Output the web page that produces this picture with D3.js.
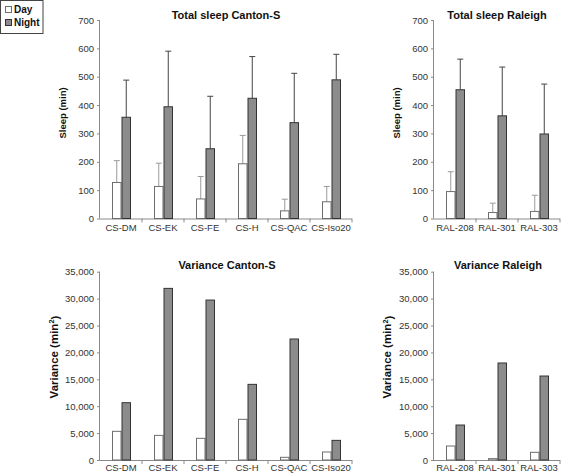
<!DOCTYPE html>
<html>
<head>
<meta charset="utf-8">
<script src="https://cdn.jsdelivr.net/npm/d3@7"></script>
<style>
  html, body { margin: 0; padding: 0; background: #fff; }
  svg { display: block; font-family: Arial, "Liberation Sans", sans-serif; }
</style>
</head>
<body>
<svg id="chart" width="561" height="474"></svg>
<script>
// ---- Data ----
const csCats = ["CS-DM", "CS-EK", "CS-FE", "CS-H", "CS-QAC", "CS-Iso20"];
const ralCats = ["RAL-208", "RAL-301", "RAL-303"];
const seriesNames = ["Day", "Night"];

const csSleepDay = [127, 113, 69, 193, 27, 59];
const csSleepDaySD = [77, 82, 79, 100, 41, 54];
const csSleepNight = [357, 394, 246, 424, 338, 489];
const csSleepNightSD = [131, 196, 185, 147, 174, 90];

const ralSleepDay = [95, 21, 25];
const ralSleepDaySD = [70, 33, 57];
const ralSleepNight = [454, 362, 298];
const ralSleepNightSD = [108, 172, 176];

const csVarDay = [5330, 4580, 4030, 7560, 500, 1490];
const csVarNight = [10650, 31900, 29730, 14060, 22490, 3650];
const ralVarDay = [2600, 250, 1430];
const ralVarNight = [6500, 18030, 15610];

const sleepTicks = [0, 100, 200, 300, 400, 500, 600, 700];
const varTicks = [0, 5000, 10000, 15000, 20000, 25000, 30000, 35000];

// ---- Drawing ----
const svg = d3.select("#chart");
const dayFill = "#ffffff", dayStroke = "#6e6e6e", dayErr = "#9a9a9a";
const nightFill = "#8c8c8c", nightStroke = "#333333", nightErr = "#444444";
const axisColor = "#8a8a8a";

function panel(opts) {
  const { cats, day, night, daySD, nightSD, x0, x1, yTop, yZero, max, ticks,
          fmt, title, titleX, titleY, ylabel, ylabelX, ylabelY, ylabelSize, xPad } = opts;
  const g = svg.append("g");
  const x = d3.scaleBand().domain(cats).range([x0, x1]).paddingInner(0).paddingOuter(0);
  const step = x.step();
  const inner = d3.scaleBand().domain(seriesNames).range([step / 2 - 9, step / 2 + 10]).padding(0);
  const y = d3.scaleLinear().domain([0, max]).range([yZero, yTop]);

  // y axis
  const ya = g.append("g").attr("transform", `translate(${x0},0)`)
    .call(d3.axisLeft(y).tickValues(ticks).tickSize(3).tickPadding(3).tickFormat(fmt));
  ya.select(".domain").attr("stroke", axisColor).attr("d", `M-0.5,${yZero}V${yTop}`);
  ya.selectAll(".tick line").attr("stroke", axisColor);
  ya.selectAll(".tick text").attr("fill", "#333").style("font-size", "9.5px");

  // x axis (labels at centres, ticks at boundaries)
  const xa = g.append("g").attr("transform", `translate(0,${yZero})`)
    .call(d3.axisBottom(x).tickSize(0).tickPadding(xPad));
  xa.select(".domain").attr("stroke", axisColor).attr("d", `M${x0},0.5H${x1}`);
  xa.selectAll(".tick text").attr("fill", "#333").style("font-size", "9.5px");
  const bounds = cats.map(c => x(c) + step);
  g.append("g").selectAll("line").data(bounds).join("line")
    .attr("x1", d => d).attr("x2", d => d)
    .attr("y1", yZero).attr("y2", yZero + 4)
    .attr("stroke", axisColor);

  const rows = cats.map((c, i) => ({
    cat: c,
    vals: [
      { s: "Day", v: day[i], sd: daySD ? daySD[i] : null },
      { s: "Night", v: night[i], sd: nightSD ? nightSD[i] : null }
    ]
  }));

  const grp = g.append("g").selectAll("g").data(rows).join("g")
    .attr("transform", d => `translate(${x(d.cat)},0)`);

  // error bars (behind bars)
  grp.selectAll("g.err").data(d => d.vals.filter(v => v.sd != null)).join("g")
    .attr("class", "err")
    .each(function (d) {
      const cx = inner(d.s) + inner.bandwidth() / 2;
      const col = d.s === "Day" ? dayErr : nightErr;
      const e = d3.select(this);
      e.append("line").attr("x1", cx).attr("x2", cx)
        .attr("y1", y(d.v)).attr("y2", y(d.v + d.sd)).attr("stroke", col);
      e.append("line").attr("x1", cx - 3).attr("x2", cx + 3)
        .attr("y1", y(d.v + d.sd)).attr("y2", y(d.v + d.sd)).attr("stroke", col);
    });

  grp.selectAll("rect").data(d => d.vals).join("rect")
    .attr("x", d => inner(d.s) + 0.5)
    .attr("y", d => y(d.v))
    .attr("width", inner.bandwidth() - 1)
    .attr("height", d => yZero - y(d.v))
    .attr("fill", d => d.s === "Day" ? dayFill : nightFill)
    .attr("stroke", d => d.s === "Day" ? dayStroke : nightStroke)
    .attr("stroke-width", 1);

  g.append("text").attr("x", titleX).attr("y", titleY)
    .attr("text-anchor", "middle").attr("font-weight", "bold")
    .style("font-size", "11px").attr("fill", "#111").text(title);

  const yl = g.append("text")
    .attr("transform", `translate(${ylabelX},${ylabelY}) rotate(-90)`)
    .attr("text-anchor", "middle").attr("font-weight", "bold")
    .style("font-size", ylabelSize).attr("fill", "#111");
  if (ylabel.sup) {
    yl.append("tspan").text(ylabel.text);
    yl.append("tspan").attr("dy", "-0.45em").style("font-size", "0.65em").text(ylabel.sup);
    yl.append("tspan").attr("dy", "0.45em").text(")");
  } else {
    yl.text(ylabel.text);
  }
}

const f0 = d3.format("d");
const fc = d3.format(",");

panel({ cats: csCats, day: csSleepDay, night: csSleepNight, daySD: csSleepDaySD, nightSD: csSleepNightSD,
  x0: 100, x1: 352, yTop: 20, yZero: 218.5, max: 700, ticks: sleepTicks, fmt: f0, xPad: 6,
  title: "Total sleep Canton-S", titleX: 226, titleY: 19,
  ylabel: { text: "Sleep (min)" }, ylabelX: 66, ylabelY: 113, ylabelSize: "9.5px" });

panel({ cats: ralCats, day: ralSleepDay, night: ralSleepNight, daySD: ralSleepDaySD, nightSD: ralSleepNightSD,
  x0: 434, x1: 560, yTop: 20, yZero: 218.5, max: 700, ticks: sleepTicks, fmt: f0, xPad: 6,
  title: "Total sleep Raleigh", titleX: 497, titleY: 19,
  ylabel: { text: "Sleep (min)" }, ylabelX: 400, ylabelY: 113, ylabelSize: "9.5px" });

panel({ cats: csCats, day: csVarDay, night: csVarNight, daySD: null, nightSD: null,
  x0: 100, x1: 352, yTop: 271.7, yZero: 460, max: 35000, ticks: varTicks, fmt: fc, xPad: 4,
  title: "Variance Canton-S", titleX: 227, titleY: 269,
  ylabel: { text: "Variance (min", sup: "2" }, ylabelX: 57.5, ylabelY: 357, ylabelSize: "11.5px" });

panel({ cats: ralCats, day: ralVarDay, night: ralVarNight, daySD: null, nightSD: null,
  x0: 434, x1: 560, yTop: 271.7, yZero: 460, max: 35000, ticks: varTicks, fmt: fc, xPad: 4,
  title: "Variance Raleigh", titleX: 498, titleY: 269,
  ylabel: { text: "Variance (min", sup: "2" }, ylabelX: 391, ylabelY: 357, ylabelSize: "11.5px" });

// ---- Legend ----
const leg = svg.append("g");
leg.append("rect").attr("x", 0.5).attr("y", 0.5).attr("width", 42.5).attr("height", 33)
  .attr("fill", "#fff").attr("stroke", "#444");
const li = leg.selectAll("g.li").data(seriesNames).join("g").attr("class", "li")
  .attr("transform", (d, i) => `translate(5,${6 + i * 13})`);
li.append("rect").attr("x", 0.5).attr("y", 0.5).attr("width", 6).attr("height", 6)
  .attr("fill", d => d === "Day" ? dayFill : nightFill)
  .attr("stroke", d => d === "Day" ? dayStroke : nightStroke);
li.append("text").attr("x", 9).attr("y", 7).attr("font-weight", "bold")
  .style("font-size", "10px").attr("fill", "#111").text(d => d);
</script>
</body>
</html>
